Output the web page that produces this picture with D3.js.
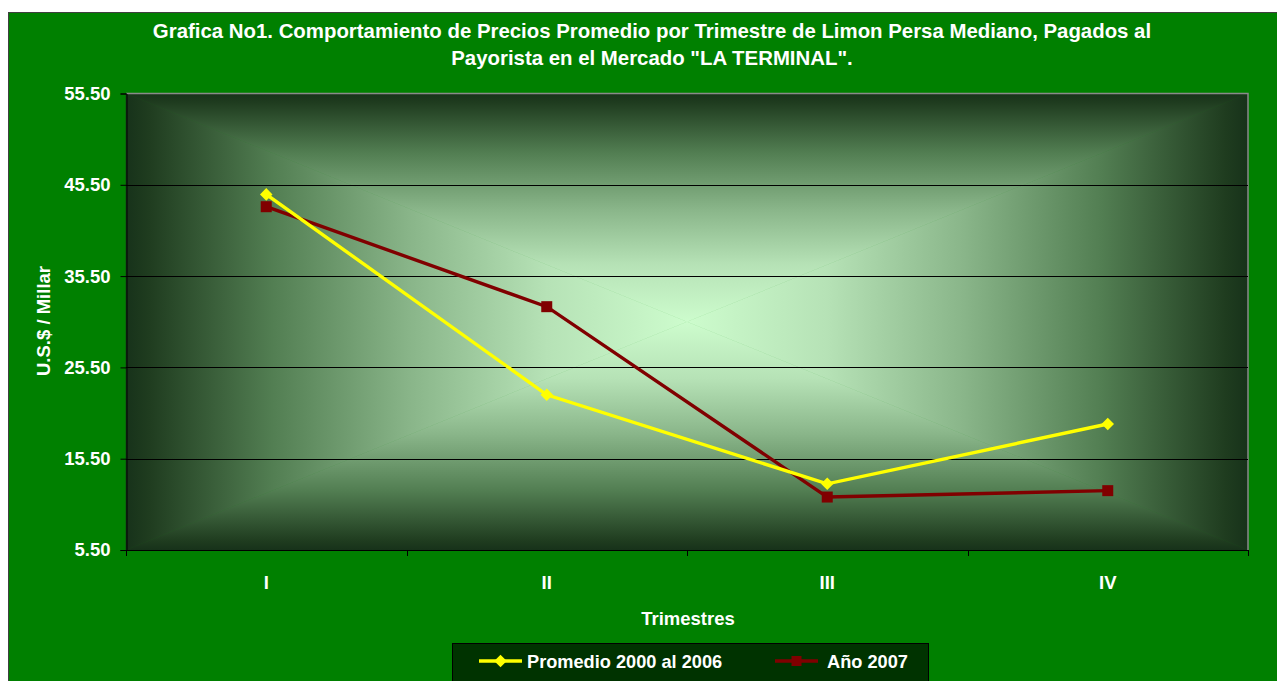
<!DOCTYPE html>
<html><head><meta charset="utf-8">
<script src="https://cdn.jsdelivr.net/npm/d3@7"></script>
<style>
html,body{margin:0;padding:0;background:#fff;}
svg{display:block;font-family:"Liberation Sans",Arial,sans-serif;}
</style></head>
<body>
<svg id="c" width="1277" height="681"></svg>
<script>
const categories = ["I", "II", "III", "IV"];
const promedio = [44.45, 22.5, 12.75, 19.3];
const anio2007 = [43.1, 32.15, 11.3, 12.0];
const yTicks = [5.5, 15.5, 25.5, 35.5, 45.5, 55.5];
const seriesNames = ["Promedio 2000 al 2006", "Año 2007"];
const titleLines = ["Grafica No1. Comportamiento de Precios Promedio por Trimestre de Limon Persa Mediano, Pagados al",
                    "Payorista en el Mercado \"LA TERMINAL\"."];

const svg = d3.select("#c");
const W = 1277, H = 681;
const L = 126, T = 93.5, R = 1248, B = 550;
const FONT = "Liberation Sans, Arial, sans-serif";

// chart area
svg.append("rect").attr("x", 8.5).attr("y", 12.5).attr("width", W).attr("height", H)
  .attr("fill", "#008000").attr("stroke", "#404040").attr("stroke-width", 1);

// plot background: rectangular "from centre" gradient via 4 triangles
const defs = svg.append("defs");
const cx = (L + R) / 2, cy = (T + B) / 2;
const stops = [[0, "#17321a"], [0.04, "#1f3c1f"], [0.26, "#527e52"], [0.51, "#8ab68a"], [0.75, "#b6e2b6"], [1, "#cdfccd"]];
function grad(id, x1, y1, x2, y2) {
  const g = defs.append("linearGradient").attr("id", id).attr("gradientUnits", "userSpaceOnUse")
    .attr("x1", x1).attr("y1", y1).attr("x2", x2).attr("y2", y2);
  stops.forEach(s => g.append("stop").attr("offset", s[0]).attr("stop-color", s[1]));
}
grad("gT", cx, T, cx, cy);
grad("gB", cx, B, cx, cy);
grad("gL", L, cy, cx, cy);
grad("gR", R, cy, cx, cy);
const tris = [
  ["gT", [[L, T], [R, T], [cx, cy]]],
  ["gB", [[L, B], [R, B], [cx, cy]]],
  ["gL", [[L, T], [L, B], [cx, cy]]],
  ["gR", [[R, T], [R, B], [cx, cy]]]
];
svg.append("g").selectAll("path").data(tris).join("path")
  .attr("d", d => "M" + d[1].map(p => p.join(",")).join("L") + "Z")
  .attr("fill", d => `url(#${d[0]})`).attr("stroke", d => `url(#${d[0]})`).attr("stroke-width", 0.6);

// plot border (grey top/right)
svg.append("path").attr("d", `M${L},${T}H${R}V${B}`).attr("fill", "none")
  .attr("stroke", "#8a8a8a").attr("stroke-width", 1.5);

// scales
const x = d3.scaleBand().domain(categories).range([L, R]).padding(0);
const y = d3.scaleLinear().domain([5.5, 55.5]).range([B, T]);

// gridlines
svg.append("g").selectAll("line").data(yTicks.filter(v => v > 5.5 && v < 55.5)).join("line")
  .attr("x1", L).attr("x2", R).attr("y1", d => Math.round(y(d)) + 0.5).attr("y2", d => Math.round(y(d)) + 0.5)
  .attr("stroke", "#000").attr("stroke-width", 1);

// y axis
const yAxis = d3.axisLeft(y).tickValues(yTicks).tickFormat(d3.format(".2f")).tickSize(6).tickPadding(10);
const gy = svg.append("g").attr("transform", `translate(${L + 0.5},0)`).call(yAxis);
gy.select(".domain").attr("stroke", "#000");
gy.selectAll(".tick line").attr("stroke", "#000");
gy.selectAll("text").attr("fill", "#fff").attr("font-size", 18.5).attr("font-weight", "bold")
  .attr("font-family", FONT);

// x axis
const xAxis = d3.axisBottom(x).tickSize(0).tickPadding(25);
const gx = svg.append("g").attr("transform", `translate(0,${B + 0.5})`).call(xAxis);
gx.select(".domain").attr("stroke", "#000").attr("d", `M${L},0H${R}`);
gx.selectAll("text").attr("fill", "#fff").attr("font-size", 18.5).attr("font-weight", "bold")
  .attr("font-family", FONT);
// category boundary ticks
const bounds = categories.map(c => x(c)).concat([R]);
svg.append("g").selectAll("line").data(bounds).join("line")
  .attr("x1", d => Math.round(d) + 0.5).attr("x2", d => Math.round(d) + 0.5)
  .attr("y1", B).attr("y2", B + 6).attr("stroke", "#000");

// lines
const cxOf = (d, i) => x(categories[i]) + x.bandwidth() / 2;
const line = d3.line().x((d, i) => cxOf(d, i)).y(d => y(d));
svg.append("path").datum(anio2007).attr("d", line).attr("fill", "none")
  .attr("stroke", "#800000").attr("stroke-width", 3.4);
svg.append("path").datum(promedio).attr("d", line).attr("fill", "none")
  .attr("stroke", "#ffff00").attr("stroke-width", 3.4);
// markers
const diamond = d3.symbol().type(d3.symbolDiamond2).size(100);
svg.append("g").selectAll("path").data(promedio).join("path")
  .attr("transform", (d, i) => `translate(${cxOf(d, i)},${y(d)})`)
  .attr("d", diamond).attr("fill", "#ffff00");
svg.append("g").selectAll("rect").data(anio2007).join("rect")
  .attr("x", (d, i) => cxOf(d, i) - 5.5).attr("y", d => y(d) - 5.5)
  .attr("width", 11).attr("height", 11).attr("fill", "#800000");

// title
svg.append("g").selectAll("text").data(titleLines).join("text")
  .attr("x", 652).attr("y", (d, i) => 38 + i * 27).attr("text-anchor", "middle")
  .attr("fill", "#fff").attr("font-size", 20.4).attr("font-weight", "bold").text(d => d);

// axis titles
svg.append("text").attr("x", 688).attr("y", 625).attr("text-anchor", "middle")
  .attr("fill", "#fff").attr("font-size", 18.5).attr("font-weight", "bold").text("Trimestres");
svg.append("text").attr("transform", "translate(50,321) rotate(-90)").attr("text-anchor", "middle")
  .attr("fill", "#fff").attr("font-size", 18.5).attr("font-weight", "bold").text("U.S.$ / Millar");

// legend
svg.append("rect").attr("x", 452.5).attr("y", 643.5).attr("width", 476).attr("height", 50)
  .attr("fill", "#003300").attr("stroke", "#000").attr("stroke-width", 1);
const leg = [
  {name: seriesNames[0], color: "#ffff00", x0: 479, tx: 527, type: "d"},
  {name: seriesNames[1], color: "#800000", x0: 775, tx: 827, type: "s"}
];
const lg = svg.append("g").selectAll("g").data(leg).join("g");
lg.append("line").attr("x1", d => d.x0).attr("x2", d => d.x0 + 43).attr("y1", 661).attr("y2", 661)
  .attr("stroke", d => d.color).attr("stroke-width", 3.4);
lg.filter(d => d.type === "d").append("path")
  .attr("transform", d => `translate(${d.x0 + 21.5},661)`).attr("d", diamond).attr("fill", d => d.color);
lg.filter(d => d.type === "s").append("rect")
  .attr("x", d => d.x0 + 16.5).attr("y", 656).attr("width", 10).attr("height", 10).attr("fill", d => d.color);
lg.append("text").attr("x", d => d.tx).attr("y", 667.5).attr("fill", "#fff")
  .attr("font-size", 18.2).attr("font-weight", "bold").text(d => d.name);
</script>
</body></html>
